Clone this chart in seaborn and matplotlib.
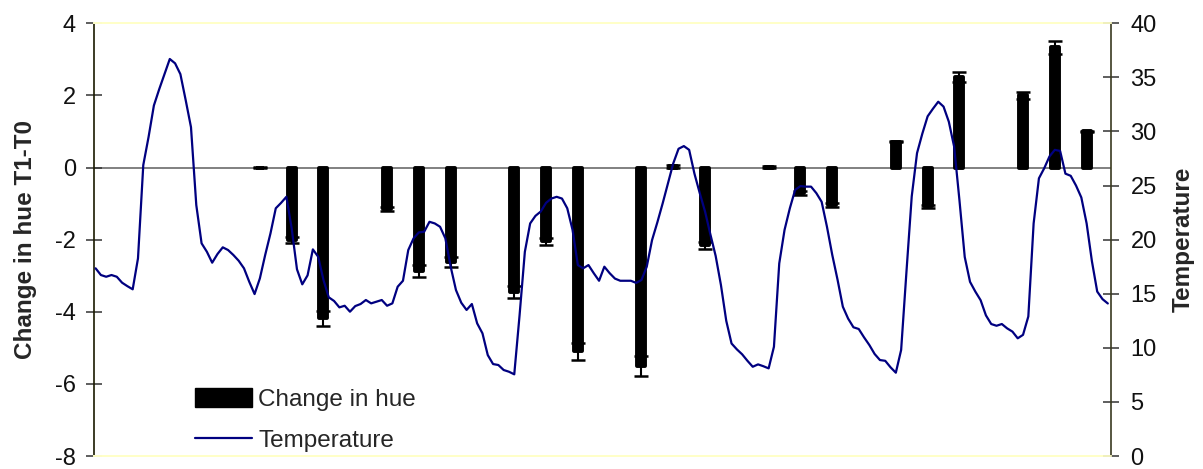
import matplotlib
matplotlib.use("Agg")
import matplotlib.pyplot as plt
import seaborn as sns
import numpy as np
from matplotlib.patches import Patch
from matplotlib.lines import Line2D

# ---------------- data ----------------
hue_hours = [31, 37, 43, 55, 61, 67, 79, 85, 91, 103, 109, 115, 127, 133, 139,
             151, 157, 163, 175, 181, 187]
hue_change = [0.0, -2.02, -4.18, -1.14, -2.87, -2.62, -3.45, -2.05, -5.10, -5.50,
              0.03, -2.16, 0.02, -0.70, -1.03, 0.72, -1.08, 2.51, 2.00, 3.33, 1.00]
hue_err = [0.01, 0.08, 0.21, 0.055, 0.16, 0.13, 0.17, 0.10, 0.24, 0.27,
           0.03, 0.10, 0.03, 0.06, 0.055, 0.02, 0.05, 0.13, 0.10, 0.19, 0.02]

temperature = [
    17.35, 16.73, 16.57, 16.73, 16.57, 16.02, 15.7, 15.41, 18.27, 26.9,
    29.5, 32.4, 33.9, 35.3, 36.7, 36.3, 35.3, 32.9, 30.4, 23.2,
    19.66, 18.88, 17.87, 18.67, 19.29, 19.04, 18.58, 18.05, 17.35, 16.1,
    14.97, 16.42, 18.58, 20.58, 22.9, 23.4, 23.96, 21.04, 17.26, 15.87,
    16.7, 19.1, 18.42, 16.27, 14.67, 14.33, 13.74, 13.89, 13.34, 13.86,
    14.05, 14.42, 14.11, 14.26, 14.42, 13.89, 14.11, 15.65, 16.2, 19.04,
    20.12, 20.67, 20.73, 21.65, 21.5, 21.19, 20.12, 17.5, 15.34, 14.17,
    13.5, 14.05, 12.26, 11.34, 9.33, 8.5, 8.41, 7.95, 7.79, 7.55,
    13.0, 18.88, 21.5, 22.2, 22.6, 23.4, 23.8, 23.96, 23.8, 22.9,
    20.9, 17.65, 17.35, 17.65, 16.9, 16.2, 17.5, 16.9, 16.4, 16.2,
    16.2, 16.2, 16.0, 16.27, 17.5, 19.96, 21.6, 23.35, 25.2, 27.05,
    28.4, 28.65, 28.3, 26.1, 24.3, 22.6, 20.5, 18.5, 15.8, 12.5,
    10.4, 9.86, 9.4, 8.8, 8.25, 8.47, 8.3, 8.1, 10.1, 17.8,
    20.9, 22.9, 24.6, 24.95, 24.9, 24.9, 24.3, 23.5, 21.2, 18.6,
    16.3, 13.8, 12.7, 11.9, 11.74, 10.97, 10.26, 9.43, 8.87, 8.8,
    8.2, 7.7, 9.8, 17.0, 24.0, 28.0, 29.8, 31.4, 32.1, 32.75,
    32.3, 30.9, 28.6, 23.66, 18.4, 16.1, 15.2, 14.4, 13.0, 12.2,
    12.04, 12.2, 11.8, 11.5, 10.88, 11.2, 12.9, 21.5, 25.67, 26.6,
    27.7, 28.3, 28.2, 26.1, 25.9, 25.0, 23.9, 21.5, 18.0, 15.2,
    14.5, 14.1]
temp_hours = list(range(len(temperature)))

left_ticks = [-8, -6, -4, -2, 0, 2, 4]
right_ticks = [0, 5, 10, 15, 20, 25, 30, 35, 40]
left_label = "Change in hue T1-T0"
right_label = "Temperature"
legend_labels = ["Change in hue", "Temperature"]

# ---------------- style ----------------
sns.set_style("white")
plt.rcParams["font.family"] = ["Liberation Sans", "DejaVu Sans"]
plt.rcParams["axes.unicode_minus"] = False

W, H = 1203, 469
fig, ax = plt.subplots(figsize=(W / 100, H / 100), dpi=100)
fig.subplots_adjust(left=94 / W, right=1111 / W, top=1 - 23.3 / H, bottom=1 - 456 / H)

line_color = "#000080"
FS_TICK = 17
FS_TEXT = 17.5

# bars
sns.barplot(x=hue_hours, y=hue_change, native_scale=True, orient="x",
            color="black", saturation=1, width=0.25, errorbar=None, ax=ax,
            edgecolor="black", linewidth=2.8)
for p in ax.patches:
    p.set_joinstyle("round")
ax.errorbar(hue_hours, hue_change, yerr=hue_err, fmt="none", ecolor="black",
            elinewidth=1.5, capsize=5.2, capthick=1.8, zorder=5)
ax.axhline(0, color="#808080", lw=1.4, zorder=0.5)

ax.set_ylim(-8, 4)
ax.set_yticks(left_ticks)
ax.set_xlim(-0.3, 191.6)
ax.set_xticks([])
ax.set_xlabel("")

# temperature line on the twin axis
ax2 = ax.twinx()
sns.lineplot(x=temp_hours, y=temperature, ax=ax2, color=line_color,
             linewidth=1.6, estimator=None)
ax2.set_ylim(0, 40)
ax2.set_yticks(right_ticks)
ax2.set_xlim(-0.3, 191.6)

# spines
for a in (ax, ax2):
    a.spines["top"].set_color("#FFFFC8")
    a.spines["bottom"].set_color("#FFFFC8")
    a.spines["top"].set_linewidth(1.3)
    a.spines["bottom"].set_linewidth(1.3)
ax.spines["left"].set_color("#1a1a00")
ax.spines["right"].set_visible(False)
ax2.spines["left"].set_visible(False)
ax2.spines["right"].set_color("#3a3a20")
ax.spines["left"].set_linewidth(1.2)
ax2.spines["right"].set_linewidth(1.2)

ax.tick_params(axis="y", direction="inout", length=11, width=1.1,
               color="#333333", labelsize=FS_TICK, pad=7.5, labelcolor="#111111")
ax2.tick_params(axis="y", direction="inout", length=12, width=1.1,
                color="#333333", labelsize=FS_TICK, pad=8, labelcolor="#111111")
ax.tick_params(axis="x", length=0)
ax2.tick_params(axis="x", length=0)

ax.set_ylabel(left_label, fontsize=FS_TEXT, fontweight="bold")
ax.yaxis.set_label_coords(-0.0565, 0.5)
ax2.set_ylabel(right_label, fontsize=FS_TEXT, fontweight="bold", rotation=90)
ax2.yaxis.set_label_coords(1.060, 0.5)

handles = [Patch(facecolor="black", edgecolor="black"),
           Line2D([0], [0], color=line_color, lw=1.6)]
leg = ax2.legend(handles, legend_labels, loc="upper left",
                 bbox_to_anchor=(195 / W, 1 - 388 / H),
                 bbox_transform=fig.transFigure, frameon=False, fontsize=FS_TEXT,
                 handlelength=2.35, handleheight=0.85, handletextpad=0.25,
                 labelspacing=0.75, borderpad=0, borderaxespad=0)

fig.savefig("out.png", dpi=100)
